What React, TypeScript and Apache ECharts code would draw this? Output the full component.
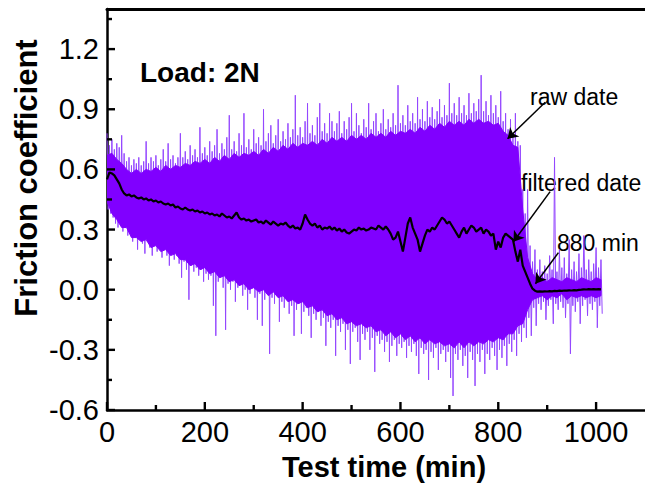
import React, { useEffect, useRef } from "react";
import * as echarts from "echarts";

// Raw friction signal: oscillation read as alternating peaks (at t = i*5 min)
// and troughs (at t = i*5 + 2.5 min), from 0 to 1010 min.
const RAW_STEP = 5;
const rawPeaks = [
  0.78, 0.72, 0.75, 0.70, 0.73, 0.71, 0.77, 0.68, 0.64, 0.66,
  0.62, 0.65, 0.63, 0.66, 0.62, 0.64, 0.74, 0.63, 0.66, 0.64,
  0.67, 0.62, 0.65, 0.70, 0.64, 0.73, 0.65, 0.67, 0.63, 0.66,
  0.78, 0.66, 0.69, 0.65, 0.72, 0.67, 0.70, 0.66, 0.81, 0.68,
  0.71, 0.67, 0.74, 0.69, 0.72, 0.80, 0.68, 0.73, 0.70, 0.76,
  0.87, 0.70, 0.74, 0.69, 0.78, 0.72, 0.88, 0.71, 0.75, 0.70,
  0.80, 0.73, 0.76, 0.72, 0.90, 0.74, 0.78, 0.82, 0.73, 0.77,
  0.85, 0.74, 0.79, 0.75, 0.83, 0.76, 0.80, 0.97, 0.77, 0.81,
  0.76, 0.84, 0.93, 0.78, 0.82, 0.77, 0.86, 0.93, 0.79, 0.83,
  0.78, 0.88, 0.84, 0.79, 0.83, 0.89, 0.78, 0.84, 0.80, 0.86,
  0.93, 0.79, 0.88, 0.82, 0.78, 0.85, 0.81, 0.93, 0.80, 0.84,
  0.88, 0.79, 0.83, 0.90, 0.80, 0.85, 0.81, 0.88, 0.82, 1.02,
  0.83, 0.87, 0.82, 0.92, 0.84, 0.88, 0.83, 0.96, 0.85, 0.90,
  0.84, 0.94, 0.86, 0.91, 0.85, 0.89, 0.95, 0.86, 0.92, 0.87,
  1.03, 0.88, 0.93, 0.87, 0.96, 0.88, 0.92, 0.87, 0.98, 0.88,
  0.93, 0.89, 0.95, 1.07, 0.89, 0.94, 0.87, 0.97, 0.88, 0.92,
  0.86, 0.99, 0.84, 0.88, 0.80, 0.85, 0.78, 0.88, 0.74, 0.72,
  0.50, 0.38, 0.50, 0.22, 0.14, 0.20, 0.10, 0.15, 0.09, 0.12,
  0.08, 0.17, 0.10, 0.66, 0.09, 0.20, 0.11, 0.16, 0.08, 0.25,
  0.10, 0.14, 0.09, 0.18, 0.11, 0.27, 0.10, 0.15, 0.09, 0.13,
  0.21, 0.11, 0.15,
];
const rawTroughs = [
  0.40, 0.38, 0.36, 0.33, 0.31, 0.33, 0.29, 0.31, 0.27, 0.30,
  0.24, 0.27, 0.20, 0.26, 0.23, 0.18, 0.24, 0.21, 0.17, 0.22,
  0.19, 0.21, 0.16, 0.20, 0.17, 0.12, 0.18, 0.15, 0.17, 0.13,
  0.06, 0.14, 0.10, -0.05, 0.12, 0.09, 0.11, 0.07, 0.10, 0.04,
  0.08, 0.05, 0.07, -0.08, -0.23, 0.04, 0.06, 0.01, -0.20, 0.03,
  0.00, 0.04, -0.06, 0.01, 0.03, -0.03, 0.00, -0.10, -0.02, 0.01,
  -0.04, -0.15, -0.02, -0.18, -0.05, -0.01, -0.32, -0.04, -0.07, -0.03,
  -0.16, -0.06, -0.09, -0.05, -0.12, -0.08, -0.23, -0.10, -0.07, -0.22,
  -0.11, -0.09, -0.13, -0.24, -0.12, -0.15, -0.11, -0.18, -0.14, -0.28,
  -0.16, -0.19, -0.15, -0.33, -0.18, -0.21, -0.17, -0.30, -0.20, -0.37,
  -0.21, -0.19, -0.26, -0.35, -0.22, -0.25, -0.21, -0.30, -0.24, -0.41,
  -0.23, -0.27, -0.25, -0.31, -0.26, -0.36, -0.28, -0.25, -0.33, -0.27,
  -0.29, -0.26, -0.34, -0.28, -0.31, -0.27, -0.33, -0.42, -0.29, -0.32,
  -0.30, -0.45, -0.31, -0.34, -0.29, -0.40, -0.32, -0.30, -0.36, -0.31,
  -0.44, -0.53, -0.32, -0.35, -0.30, -0.38, -0.33, -0.44, -0.31, -0.35,
  -0.48, -0.32, -0.36, -0.30, -0.42, -0.32, -0.35, -0.29, -0.33, -0.40,
  -0.30, -0.34, -0.28, -0.38, -0.27, -0.31, -0.25, -0.33, -0.22, -0.26,
  -0.19, -0.24, -0.14, -0.23, -0.09, -0.18, -0.07, -0.10, -0.06, -0.15,
  -0.08, -0.05, -0.17, -0.07, -0.10, -0.06, -0.09, -0.14, -0.07, -0.32,
  -0.08, -0.11, -0.06, -0.17, -0.08, -0.05, -0.13, -0.07, -0.10, -0.06,
  -0.19, -0.08, -0.12,
];
// Dense core of the raw signal (solid band), every 10 min from 0 to 1010 min.
const CORE_STEP = 10;
const coreTop = [
  0.67, 0.68, 0.65, 0.63, 0.60, 0.58, 0.60, 0.58, 0.60, 0.59,
  0.61, 0.59, 0.62, 0.60, 0.62, 0.61, 0.63, 0.62, 0.64, 0.63,
  0.65, 0.63, 0.66, 0.64, 0.67, 0.65, 0.68, 0.66, 0.68, 0.67,
  0.69, 0.67, 0.70, 0.68, 0.71, 0.69, 0.72, 0.70, 0.73, 0.71,
  0.73, 0.72, 0.74, 0.72, 0.75, 0.73, 0.76, 0.74, 0.76, 0.74,
  0.77, 0.75, 0.77, 0.75, 0.78, 0.76, 0.78, 0.76, 0.79, 0.77,
  0.79, 0.78, 0.80, 0.78, 0.81, 0.79, 0.82, 0.80, 0.83, 0.81,
  0.84, 0.82, 0.84, 0.82, 0.85, 0.83, 0.85, 0.83, 0.84, 0.82,
  0.83, 0.79, 0.77, 0.72, 0.71, 0.40, 0.16, 0.08, 0.05, 0.06,
  0.04, 0.06, 0.05, 0.04, 0.06, 0.05, 0.04, 0.06, 0.05, 0.04,
  0.06, 0.05,
];
const coreBottom = [
  0.44, 0.38, 0.35, 0.31, 0.31, 0.26, 0.26, 0.24, 0.25, 0.21,
  0.22, 0.19, 0.20, 0.17, 0.18, 0.15, 0.15, 0.12, 0.13, 0.10,
  0.11, 0.08, 0.09, 0.06, 0.07, 0.04, 0.05, 0.02, 0.03, 0.00,
  0.01, -0.01, 0.00, -0.03, -0.01, -0.04, -0.03, -0.06, -0.05, -0.07,
  -0.06, -0.09, -0.08, -0.11, -0.10, -0.13, -0.12, -0.15, -0.14, -0.17,
  -0.16, -0.18, -0.17, -0.19, -0.18, -0.21, -0.20, -0.23, -0.21, -0.24,
  -0.22, -0.25, -0.23, -0.26, -0.24, -0.27, -0.25, -0.27, -0.26, -0.28,
  -0.27, -0.29, -0.26, -0.29, -0.26, -0.28, -0.26, -0.27, -0.25, -0.26,
  -0.24, -0.25, -0.22, -0.22, -0.18, -0.17, -0.10, -0.05, -0.04, -0.03,
  -0.05, -0.03, -0.04, -0.02, -0.05, -0.03, -0.04, -0.03, -0.04, -0.03,
  -0.04, -0.03,
];
// Filtered friction coefficient, every 5 min from 0 to 1010 min.
const filtered = [
  0.55, 0.585, 0.58, 0.57, 0.55, 0.53, 0.50, 0.48, 0.47, 0.475,
  0.465, 0.47, 0.46, 0.455, 0.46, 0.45, 0.455, 0.445, 0.45, 0.44,
  0.445, 0.435, 0.44, 0.43, 0.425, 0.43, 0.42, 0.425, 0.41, 0.415,
  0.405, 0.40, 0.41, 0.40, 0.395, 0.40, 0.39, 0.395, 0.385, 0.39,
  0.38, 0.385, 0.375, 0.38, 0.37, 0.375, 0.365, 0.38, 0.37, 0.36,
  0.365, 0.355, 0.37, 0.385, 0.36, 0.35, 0.355, 0.345, 0.35, 0.34,
  0.345, 0.35, 0.335, 0.34, 0.33, 0.345, 0.335, 0.325, 0.34, 0.33,
  0.32, 0.33, 0.325, 0.335, 0.32, 0.31, 0.32, 0.305, 0.31, 0.30,
  0.33, 0.375, 0.35, 0.33, 0.32, 0.33, 0.31, 0.32, 0.30, 0.31,
  0.305, 0.315, 0.30, 0.31, 0.295, 0.305, 0.29, 0.30, 0.285, 0.28,
  0.29, 0.30, 0.295, 0.31, 0.30, 0.305, 0.295, 0.30, 0.31, 0.305,
  0.30, 0.32, 0.31, 0.30, 0.315, 0.30, 0.28, 0.25, 0.26, 0.29,
  0.24, 0.19, 0.26, 0.33, 0.36, 0.31, 0.28, 0.25, 0.19, 0.23,
  0.27, 0.30, 0.29, 0.31, 0.30, 0.32, 0.34, 0.36, 0.35, 0.33,
  0.34, 0.32, 0.30, 0.28, 0.26, 0.29, 0.31, 0.28, 0.30, 0.32,
  0.31, 0.29, 0.30, 0.31, 0.28, 0.30, 0.29, 0.27, 0.28, 0.20,
  0.24, 0.21, 0.26, 0.28, 0.27, 0.26, 0.25, 0.19, 0.14, 0.20,
  0.12, 0.09, 0.06, 0.03, 0.005, -0.005, -0.01, -0.008, -0.01, -0.008,
  -0.009, -0.007, -0.008, -0.006, -0.007, -0.005, -0.006, -0.004, -0.005, -0.003,
  -0.004, -0.002, -0.003, -0.001, 0.0, 0.002, 0.001, 0.003, 0.002, 0.003,
  0.002, 0.003, 0.002,
];

// Axis ranges and tick positions
const X_MIN = 0;
const X_MAX = 1100;
const Y_MIN = -0.6;
const Y_MAX = 1.4;
const xMajorTicks = [0, 200, 400, 600, 800, 1000];
const xMinorTicks = [100, 300, 500, 700, 900];
const yMajorTicks = [-0.6, -0.3, 0, 0.3, 0.6, 0.9, 1.2];
const yMinorTicks = [-0.45, -0.15, 0.15, 0.45, 0.75, 1.05, 1.35];

// Annotation arrows: [start, end] in data coordinates (time, friction)
const arrowRaw = [[896, 0.935], [819, 0.753]];
const arrowFiltered = [[906, 0.489], [831, 0.239]];
const arrow880 = [[923, 0.185], [876, 0.03]];

const FONT = '"Liberation Sans", Arial, Helvetica, sans-serif';

export default function App() {
  const ref = useRef<HTMLDivElement>(null);

  useEffect(() => {
    if (!ref.current) return;
    const chart = echarts.init(ref.current, null, { renderer: "svg" });

    const rawData: number[][] = [];
    for (let i = 0; i < rawPeaks.length; i++) {
      rawData.push([i * RAW_STEP, rawPeaks[i]]);
      rawData.push([i * RAW_STEP + RAW_STEP / 2, rawTroughs[i]]);
    }
    const filtData = filtered.map((v, i) => [i * RAW_STEP, v]);

    const arrowLine = (a: number[][]) => [
      { coord: a[0], symbol: "none" },
      { coord: a[1], symbol: "arrow" },
    ];

    const renderCore = (params: any, api: any) => {
      const pts: number[][] = [];
      for (let i = 0; i < coreTop.length; i++) pts.push(api.coord([i * CORE_STEP, coreTop[i]]));
      for (let i = coreBottom.length - 1; i >= 0; i--) pts.push(api.coord([i * CORE_STEP, coreBottom[i]]));
      return {
        type: "polygon",
        shape: { points: pts },
        style: { fill: "#8000ff", stroke: "#8000ff", lineWidth: 1 },
      };
    };

    const texts: any[] = [
      {
        type: "text",
        x: 26,
        y: 178,
        rotation: Math.PI / 2,
        style: {
          text: "Friction coefficient",
          fontSize: 31,
          fontWeight: "bold",
          fontFamily: FONT,
          fill: "#000",
          align: "center",
          verticalAlign: "middle",
        },
      },
      {
        type: "text",
        x: 384,
        y: 467,
        style: {
          text: "Test time (min)",
          fontSize: 29,
          fontWeight: "bold",
          fontFamily: FONT,
          fill: "#000",
          align: "center",
          verticalAlign: "middle",
        },
      },
      {
        type: "text",
        x: 140,
        y: 72,
        style: {
          text: "Load: 2N",
          fontSize: 28,
          fontWeight: "bold",
          fontFamily: FONT,
          fill: "#000",
          align: "left",
          verticalAlign: "middle",
        },
      },
      {
        type: "text",
        x: 530,
        y: 97,
        style: { text: "raw date", fontSize: 23, fontFamily: FONT, fill: "#000", align: "left", verticalAlign: "middle" },
      },
      {
        type: "text",
        x: 521,
        y: 183,
        style: { text: "filtered date", fontSize: 23, fontFamily: FONT, fill: "#000", align: "left", verticalAlign: "middle" },
      },
      {
        type: "text",
        x: 557,
        y: 243,
        style: { text: "880 min", fontSize: 23, fontFamily: FONT, fill: "#000", align: "left", verticalAlign: "middle" },
      },
    ];

    chart.setOption({
      animation: false,
      backgroundColor: "#ffffff",
      grid: { left: 107, top: 9, width: 540, height: 401, containLabel: false },
      xAxis: [
        {
          type: "value",
          min: X_MIN,
          max: X_MAX,
          interval: 200,
          axisLine: { show: true, onZero: false, lineStyle: { color: "#000", width: 2.5 } },
          axisTick: { show: false },
          minorTick: { show: false },
          axisLabel: {
            margin: 7,
            fontSize: 29,
            color: "#000",
            fontFamily: FONT,
            showMaxLabel: false,
            formatter: (v: number) => String(v),
          },
          splitLine: { show: false },
        },
        {
          type: "value",
          position: "top",
          min: X_MIN,
          max: X_MAX,
          axisLine: { show: true, onZero: false, lineStyle: { color: "#000", width: 3 } },
          axisTick: { show: false },
          axisLabel: { show: false },
          splitLine: { show: false },
        },
      ],
      yAxis: {
        type: "value",
        min: Y_MIN,
        max: Y_MAX,
        interval: 0.3,
        axisLine: { show: true, onZero: false, lineStyle: { color: "#000", width: 2.5 } },
        axisTick: { show: false },
        minorTick: { show: false },
        axisLabel: {
          margin: 8,
          fontSize: 29,
          color: "#000",
          fontFamily: FONT,
          showMaxLabel: false,
          formatter: (v: number) => v.toFixed(1),
        },
        splitLine: { show: false },
      },
      series: [
        {
          name: "raw date spikes",
          type: "line",
          data: rawData,
          showSymbol: false,
          symbol: "none",
          lineStyle: { color: "#9447ff", width: 1 },
          z: 2,
        },
        {
          name: "raw date",
          type: "custom",
          data: [[0, 0]],
          renderItem: renderCore,
          clip: true,
          silent: true,
          z: 3,
        },
        {
          name: "filtered date",
          type: "line",
          data: filtData,
          showSymbol: false,
          symbol: "none",
          lineStyle: { color: "#000", width: 2.2 },
          z: 4,
          markLine: {
            silent: true,
            symbolSize: 10,
            label: { show: false },
            lineStyle: { color: "#000", width: 1.5, type: "solid" },
            data: [arrowLine(arrowRaw), arrowLine(arrowFiltered), arrowLine(arrow880)],
          },
        },
      ],
      graphic: texts,
    });

    // Inward-pointing axis ticks, placed through the chart's own scales
    const toPx = (x: number, y: number) => chart.convertToPixel({ gridIndex: 0 }, [x, y]) as number[];
    const tickEls: any[] = [];
    const addX = (v: number, len: number) => {
      const p = toPx(v, Y_MIN);
      tickEls.push({
        type: "line",
        z: 100,
        shape: { x1: p[0], y1: p[1], x2: p[0], y2: p[1] - len },
        style: { stroke: "#000", lineWidth: 2.4 },
      });
    };
    const addY = (v: number, len: number) => {
      const p = toPx(X_MIN, v);
      tickEls.push({
        type: "line",
        z: 100,
        shape: { x1: p[0], y1: p[1], x2: p[0] + len, y2: p[1] },
        style: { stroke: "#000", lineWidth: 2.4 },
      });
    };
    xMajorTicks.forEach((v) => addX(v, 8));
    xMinorTicks.forEach((v) => addX(v, 5));
    yMajorTicks.forEach((v) => addY(v, 8));
    yMinorTicks.forEach((v) => addY(v, 5));

    chart.setOption({ graphic: [...texts, ...tickEls] });

    return () => chart.dispose();
  }, []);

  return (
    <div
      ref={ref}
      style={{ position: "fixed", left: 0, top: 0, width: 645, height: 486, background: "#fff" }}
    />
  );
}
